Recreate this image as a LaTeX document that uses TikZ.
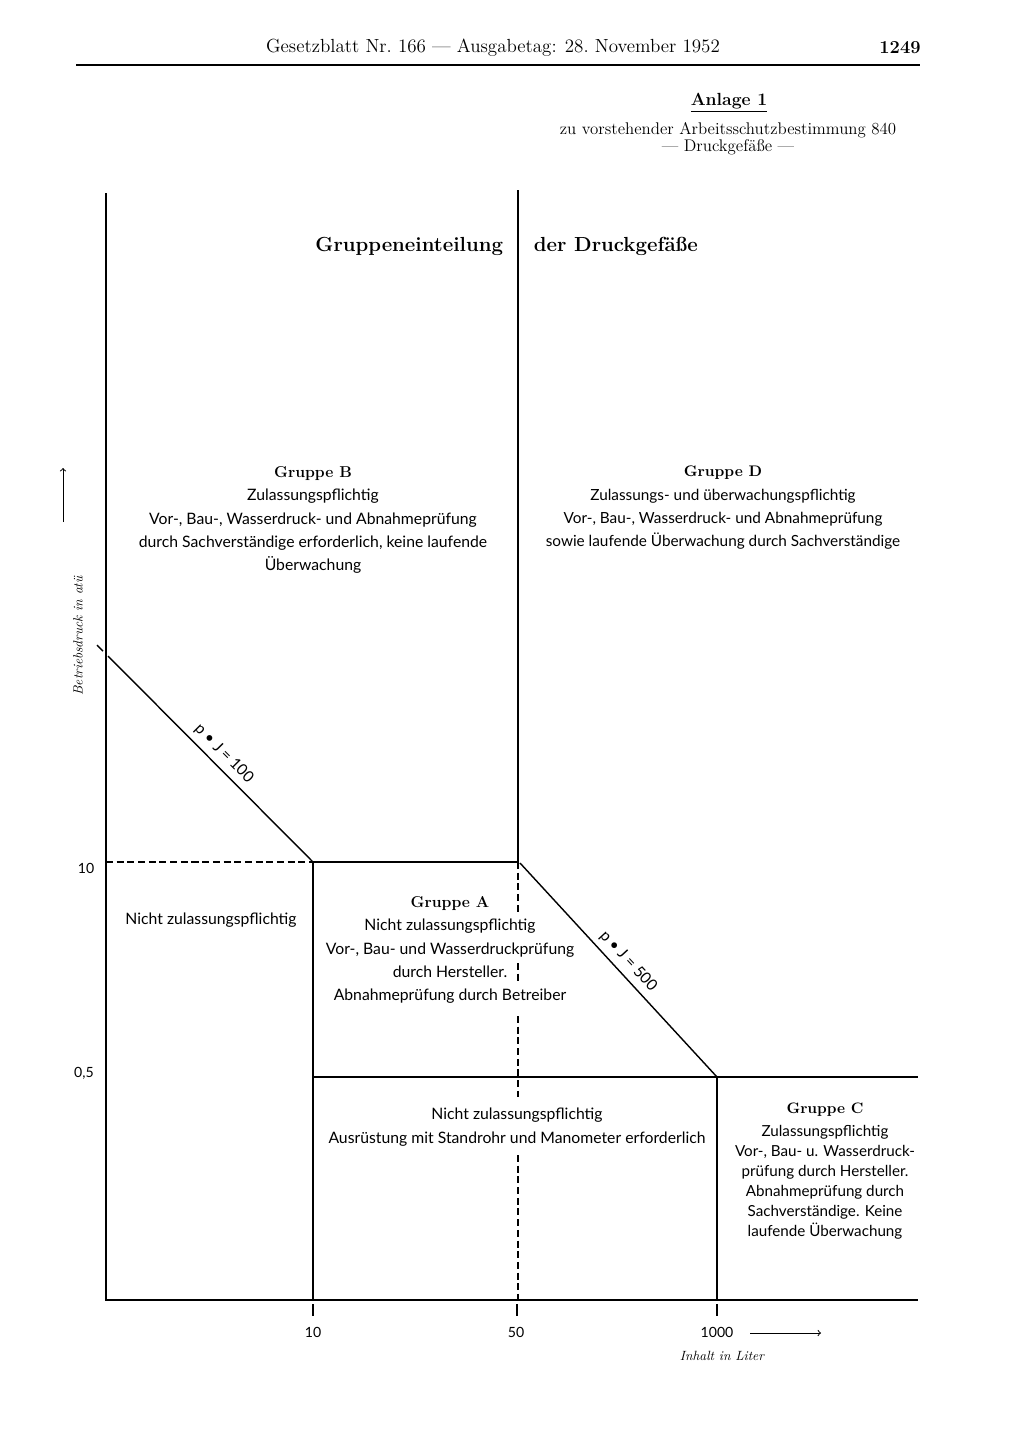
\documentclass[tikz,border=0pt]{standalone}
\usepackage{fontspec}
\setsansfont{Lato}
\tikzset{
  axisline/.style={line width=1.2pt},
  gridline/.style={line width=1.0pt},
  guideline/.style={line width=0.9pt,dash pattern=on 5pt off 2.6pt},
  tickmark/.style={line width=1.3pt},
  zonetext/.style={font=\sffamily\fontsize{11.2}{16.6}\selectfont,align=center,inner sep=1pt},
  ticklabel/.style={font=\sffamily\fontsize{10}{12}\selectfont,inner sep=1pt},
  pjlabel/.style={sloped,above=3pt,font=\sffamily\fontsize{11}{13}\selectfont,inner sep=1pt}
}
\begin{document}
\begin{tikzpicture}[x=0.025cm,y=-0.025cm]
\useasboundingbox[fill=white] (0,0) rectangle (1024,1447);
\node (kopf) at (493,48) {\fontsize{13.5}{16}\selectfont Gesetzblatt Nr.~166 — Ausgabetag: 28.~November 1952};
\node (seite) at (900,48) {\bfseries\fontsize{13}{16}\selectfont 1249};
\coordinate (kopfL) at (76,65);
\coordinate (kopfR) at (920,65);
\draw[line width=1.1pt] (kopfL) -- (kopfR);
\node (anlage) at (729,103) {\bfseries\fontsize{12.5}{15}\selectfont\underline{Anlage 1}};
\node (bezug) at (728,130) {\fontsize{12}{14}\selectfont zu vorstehender Arbeitsschutzbestimmung 840};
\node (art) at (728,147) {\fontsize{12}{14}\selectfont — Druckgefäße —};
\node[anchor=east] (titelL) at (508,246) {\bfseries\fontsize{14.5}{17}\selectfont Gruppeneinteilung};
\node[anchor=west] (titelR) at (529,246) {\bfseries\fontsize{14.5}{17}\selectfont der Druckgefäße};
\coordinate (O) at (106,1300);
\coordinate (Ytop) at (106,193);
\coordinate (Mtop) at (518,190);
\coordinate (M10) at (518,862);
\coordinate (Ma) at (518,913);
\coordinate (Mb) at (518,963);
\coordinate (Mc) at (518,981);
\coordinate (Md) at (518,1016);
\coordinate (Me) at (518,1097);
\coordinate (Mf) at (518,1155);
\coordinate (M0) at (518,1300);
\coordinate (L10) at (106,862);
\coordinate (A10) at (313,862);
\coordinate (A05) at (313,1077);
\coordinate (C05) at (717,1077);
\coordinate (R05) at (918,1077);
\coordinate (X10) at (313,1300);
\coordinate (X1000) at (717,1300);
\coordinate (Xend) at (918,1300);
\coordinate (P100) at (108,656);
\coordinate (P100a) at (97,645);
\coordinate (P100b) at (103,651);
\coordinate (P500) at (520,863);
\draw[axisline] (Ytop) -- (O) -- (Xend);
\draw[axisline] (Mtop) -- (M10);
\draw[guideline] (M10) -- (Ma) (Mb) -- (Mc) (Md) -- (Me) (Mf) -- (M0);
\draw[guideline] (L10) -- (A10);
\draw[gridline] (A10) -- (M10);
\draw[gridline] (A10) -- (X10);
\draw[gridline] (A05) -- (R05);
\draw[gridline] (C05) -- (X1000);
\draw[gridline] (P100a) -- (P100b);
\draw[gridline] (P100) -- (A10) node[pjlabel,pos=0.52] (pj100) {p • J = 100};
\draw[gridline] (P500) -- (C05) node[pjlabel,pos=0.5] (pj500) {p • J = 500};
\foreach \t/\n in {313/x10, 517/x50, 717/x1000}{
  \coordinate (\n a) at (\t,1304);
  \coordinate (\n b) at (\t,1316);
  \draw[tickmark] (\n a) -- (\n b);
}
\node[ticklabel] (lx10) at (313,1332) {10};
\node[ticklabel] (lx50) at (516,1332) {50};
\node[ticklabel] (lx1000) at (717,1332) {1000};
\node[ticklabel] (ly10) at (86,868) {10};
\node[ticklabel] (ly05) at (84,1073) {0,5};
\coordinate (xpfeilA) at (750,1333);
\coordinate (xpfeilB) at (821,1333);
\draw[->,line width=0.7pt] (xpfeilA) -- (xpfeilB);
\coordinate (ypfeilA) at (63,522);
\coordinate (ypfeilB) at (63,468);
\draw[->,line width=0.7pt] (ypfeilA) -- (ypfeilB);
\node[rotate=90,font=\rmfamily\itshape\fontsize{9.5}{11}\selectfont] (ylab) at (78,636) {Betriebsdruck in atü};
\node[font=\rmfamily\itshape\fontsize{9.5}{11}\selectfont] (xlab) at (722,1356) {Inhalt in Liter};
\node[zonetext] (grpB) at (313,520) {{\rmfamily\bfseries Gruppe B}\\ Zulassungspflichtig\\ Vor-, Bau-, Wasserdruck- und Abnahmeprüfung\\ durch Sachverständige erforderlich, keine laufende\\ Überwachung};
\node[zonetext,font=\sffamily\fontsize{10.9}{16.6}\selectfont] (grpD) at (723,508) {{\rmfamily\bfseries Gruppe D}\\ Zulassungs- und überwachungspflichtig\\ Vor-, Bau-, Wasserdruck- und Abnahmeprüfung\\ sowie laufende Überwachung durch Sachverständige};
\node[zonetext] (nichtL) at (211,920) {Nicht zulassungspflichtig};
\node[zonetext] (grpA) at (450,950) {{\rmfamily\bfseries Gruppe A}\\ Nicht zulassungspflichtig\\ Vor-, Bau- und Wasserdruckprüfung\\ durch Hersteller.\\ Abnahmeprüfung durch Betreiber};
\node[zonetext] (nichtU) at (517,1127) {Nicht zulassungspflichtig\\ Ausrüstung mit Standrohr und Manometer erforderlich};
\node[zonetext,font=\sffamily\fontsize{10.8}{14.2}\selectfont] (grpC) at (825,1171) {{\rmfamily\bfseries\fontsize{10.8}{14.2}\selectfont Gruppe C}\\[2pt] Zulassungspflichtig\\ Vor-, Bau- u. Wasserdruck-\\ prüfung durch Hersteller.\\ Abnahmeprüfung durch\\ Sachverständige. Keine\\ laufende Überwachung};
\end{tikzpicture}
\end{document}
